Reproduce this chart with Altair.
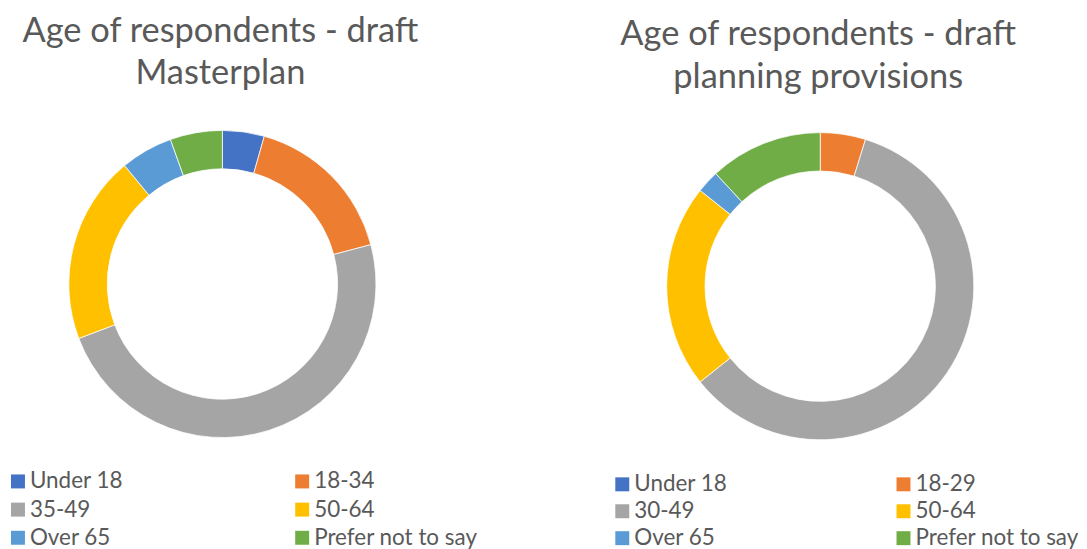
import altair as alt
import pandas as pd

# ---- data ----
left_title = ["Age of respondents - draft", "Masterplan"]
left_categories = ["Under 18", "18-34", "35-49", "50-64", "Over 65", "Prefer not to say"]
left_values = [4, 15, 44, 18, 5, 5]

right_title = ["Age of respondents - draft", "planning provisions"]
right_categories = ["Under 18", "18-29", "30-49", "50-64", "Over 65", "Prefer not to say"]
right_values = [0, 2, 25, 9, 1, 5]

palette = ["#4472C4", "#ED7D31", "#A5A5A5", "#FFC000", "#5B9BD5", "#70AD47"]

FONT = "Lato"
TEXT = "#595959"


def frame(cats, vals):
    n = len(cats)
    return pd.DataFrame({
        "category": cats,
        "value": vals,
        "order": list(range(n)),
        "col": [i % 2 for i in range(n)],
        "row": [i // 2 for i in range(n)],
    })


def donut_chart(df, cats, title, title_offset, line_h, height):
    color = alt.Color("category:N", scale=alt.Scale(domain=cats, range=palette), legend=None)
    return alt.Chart(df).mark_arc(
        outerRadius=154, innerRadius=115.5, stroke="white", strokeWidth=0.75
    ).encode(
        theta=alt.Theta("value:Q", stack=True),
        order=alt.Order("order:Q"),
        color=color,
    ).properties(
        width=430, height=height,
        title=alt.TitleParams(
            text=title, font=FONT, fontSize=34.5, fontWeight="normal", color=TEXT,
            lineHeight=line_h, anchor="middle", offset=title_offset, dx=-2,
        ),
    )


def legend_chart(df, cats, xrange, yrange, width, height):
    color = alt.Color("category:N", scale=alt.Scale(domain=cats, range=palette), legend=None)
    base = alt.Chart(df).encode(
        x=alt.X("col:Q", axis=None, scale=alt.Scale(domain=[0, 1], range=xrange)),
        y=alt.Y("row:Q", axis=None, scale=alt.Scale(domain=[0, 2], range=yrange, nice=False)),
    )
    squares = base.mark_square(size=196, opacity=1).encode(color=color)
    labels = base.mark_text(
        align="left", baseline="middle", dx=12, font=FONT, fontSize=22.5, color=TEXT
    ).encode(text="category:N")
    return (squares + labels).properties(width=width, height=height)


ldf = frame(left_categories, left_values)
left = alt.vconcat(
    donut_chart(ldf, left_categories, left_title, 33.5, 42, 320),
    legend_chart(ldf, left_categories, [10, 295], [14, 70.5], 472, 85),
    spacing=24,
)

rdf = frame(right_categories, right_values)
right = alt.vconcat(
    donut_chart(rdf, right_categories, right_title, 29, 43, 324.4),
    legend_chart(rdf, right_categories, [16.5, 298.5], [33.4, 87.4], 471, 92),
    spacing=2.5,
)

chart = alt.hconcat(left, right, spacing=127.5).properties(
    padding={"left": 0, "top": 5, "right": 0, "bottom": 0}
).resolve_scale(color="independent").configure_view(stroke=None)

chart.save("out.html", embed_options={"renderer": "svg", "actions": False})
